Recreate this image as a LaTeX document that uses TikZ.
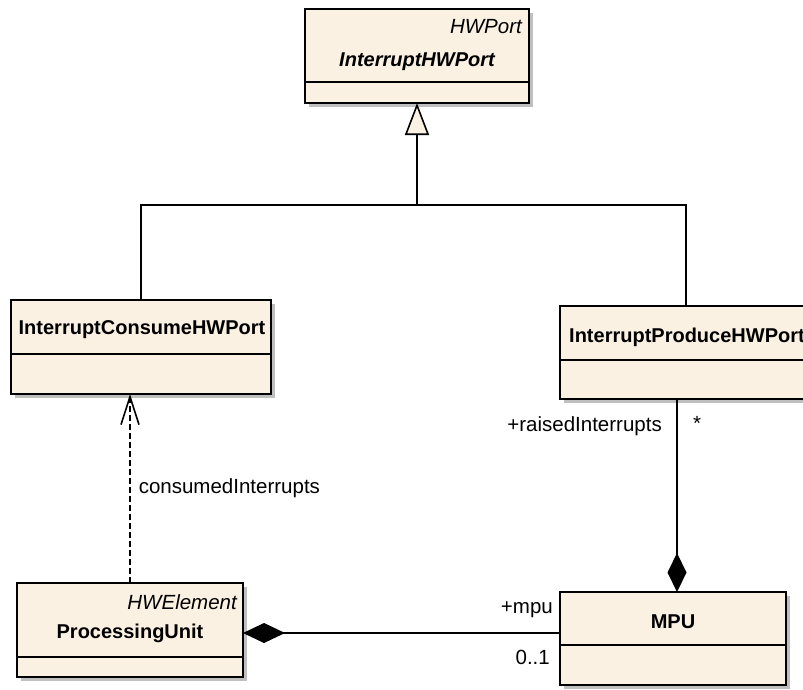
\documentclass[tikz,border=0pt]{standalone}
\usepackage{fontspec}
\setmainfont{Liberation Sans}
\usetikzlibrary{arrows.meta, shadows}
\definecolor{classfill}{RGB}{251,241,227}
\tikzset{
  umlclass/.style={draw, fill=classfill, line width=2pt, anchor=north west, inner sep=0pt, outer sep=0pt,
    drop shadow={shadow xshift=4pt, shadow yshift=-4pt, fill=black!25, opacity=1}},
  classname/.style={font=\fontsize{20}{23}\selectfont\bfseries, inner sep=0pt},
  stereo/.style={font=\fontsize{20.5}{23}\selectfont\itshape, inner sep=0pt, anchor=east},
  role/.style={font=\fontsize{20.5}{23}\selectfont, inner sep=0pt},
  assoc/.style={line width=1.6pt},
}
\begin{document}
\begin{tikzpicture}[x=1pt, y=-1pt]
    \path[use as bounding box, clip] (0,0) rectangle (803,689);
    % Classes
    \node[umlclass, minimum width=224pt, minimum height=94pt] (hwport) at (305,9) {};
    \node[umlclass, minimum width=260pt, minimum height=94pt] (consume) at (11,300) {};
    \node[umlclass, minimum width=252pt, minimum height=93pt] (produce) at (560,306) {};
    \node[umlclass, minimum width=226pt, minimum height=94pt] (pu) at (17,583) {};
    \node[umlclass, minimum width=226pt, minimum height=93pt] (mpu) at (560,592) {};
    % Compartment lines
    \draw[assoc] (hwport.west |- 0,82) -- (hwport.east |- 0,82);
    \draw[assoc] (consume.west |- 0,354) -- (consume.east |- 0,354);
    \draw[assoc] (produce.west |- 0,360) -- (produce.east |- 0,360);
    \draw[assoc] (pu.west |- 0,657) -- (pu.east |- 0,657);
    \draw[assoc] (mpu.west |- 0,645) -- (mpu.east |- 0,645);
    % Names
    \node[stereo] (hwportkind) at (522,27) {HWPort};
    \node[classname, font=\fontsize{20}{23}\selectfont\bfseries\itshape] (hwportname) at (417,62) {InterruptHWPort};
    \node[classname] (consumename) at (142,330) {InterruptConsumeHWPort};
    \node[classname, anchor=west] (producename) at (569,337) {InterruptProduceHWPort};
    \node[stereo] (pukind) at (237,602) {HWElement};
    \node[classname] (puname) at (130,633) {ProcessingUnit};
    \node[classname] (mpuname) at (673,622) {MPU};
    % Generalization
    \coordinate (split) at (417,205);
    \draw[assoc] (consume.north) |- (split) -| (produce.north);
    \draw[assoc, -{Triangle[length=32pt, width=24pt, fill=classfill]}] (split) -- (hwport.south);
    % Dependency
    \draw[assoc, dash pattern=on 6pt off 3pt, -{Straight Barb[length=28pt, width=18pt]}] (pu.north) -- (pu.north |- consume.south)
        node[role, pos=.5, anchor=west, xshift=8pt] (deplabel) {consumedInterrupts};
    % Compositions
    \draw[assoc, -{Diamond[length=39pt, width=19pt]}] (produce.south -| 677,0) -- (mpu.north -| 677,0);
    \node[role, anchor=east] (raisedrole) at (662,426) {+raisedInterrupts};
    \node[role] (raisedmult) at (697,423) {*};
    \draw[assoc, -{Diamond[length=42pt, width=20pt]}] (mpu.west |- 0,633) -- (pu.east |- 0,633);
    \node[role, anchor=east] (mpurole) at (553,610) {+mpu};
    \node[role, anchor=east] (mpumult) at (550,657) {0..1};
\end{tikzpicture}
\end{document}
